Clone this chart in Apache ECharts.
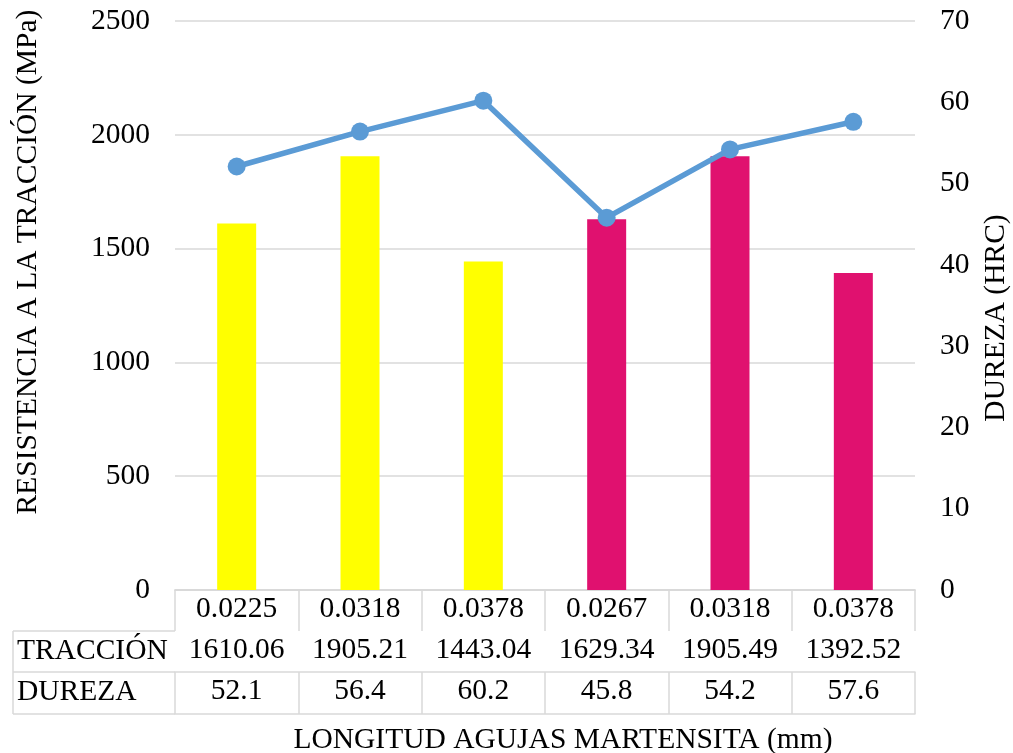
<!DOCTYPE html>
<html>
<head>
<meta charset="utf-8">
<script src="https://cdn.jsdelivr.net/npm/echarts@6/dist/echarts.min.js"></script>
<style>
html,body{margin:0;padding:0;background:#fff;}
#c{width:1013px;height:753px;}
</style>
</head>
<body>
<div id="c"></div>
<script>
const categories = ['0.0225', '0.0318', '0.0378', '0.0267', '0.0318', '0.0378'];
const traccion = [1610.06, 1905.21, 1443.04, 1629.34, 1905.49, 1392.52];
const dureza = [52.1, 56.4, 60.2, 45.8, 54.2, 57.6];
const barColors = ['#FFFF00', '#FFFF00', '#FFFF00', '#E0116F', '#E0116F', '#E0116F'];
const leftTicks = {min: 0, max: 2500, interval: 500};
const rightTicks = {min: 0, max: 70, interval: 10};

const FONT = "'Liberation Serif', 'Times New Roman', serif";
const GRID = '#D9D9D9';
const FS = 29.5;

const chart = echarts.init(document.getElementById('c'), null, {renderer: 'canvas'});

function tableAxis(data, offset, tickLen, showLabel) {
  return {
    type: 'category',
    data: data,
    position: 'bottom',
    offset: offset,
    boundaryGap: true,
    axisLine: {show: true, lineStyle: {color: GRID, width: 1.5}},
    axisTick: {show: tickLen > 0, length: tickLen, interval: 0, lineStyle: {color: GRID, width: 1.5}},
    axisLabel: {show: showLabel, interval: 0, margin: 5, color: '#000', fontFamily: FONT, fontSize: FS, lineHeight: 29},
    splitLine: {show: false}
  };
}

const option = {
  backgroundColor: '#fff',
  animation: false,
  grid: {left: 175, right: 98, top: 21, bottom: 163, containLabel: false},
  xAxis: [
    tableAxis(categories, 0, 41, true),
    tableAxis(traccion.map(v => v.toFixed(2)), 41, 41, true),
    tableAxis(dureza.map(v => v.toFixed(1)), 82, 42, true),
    tableAxis(categories, 124, 0, false)
  ],
  yAxis: [
    {
      type: 'value', position: 'left',
      min: leftTicks.min, max: leftTicks.max, interval: leftTicks.interval,
      axisLine: {show: false}, axisTick: {show: false},
      axisLabel: {margin: 25, color: '#000', fontFamily: FONT, fontSize: FS, formatter: v => String(v)},
      splitLine: {show: true, lineStyle: {color: GRID, width: 1.5}}
    },
    {
      type: 'value', position: 'right',
      min: rightTicks.min, max: rightTicks.max, interval: rightTicks.interval,
      axisLine: {show: false}, axisTick: {show: false},
      axisLabel: {margin: 25, color: '#000', fontFamily: FONT, fontSize: FS, formatter: v => String(v)},
      splitLine: {show: false}
    }
  ],
  series: [
    {
      name: 'TRACCIÓN',
      type: 'bar',
      xAxisIndex: 0, yAxisIndex: 0,
      barWidth: 39,
      data: traccion.map((v, i) => ({value: v, itemStyle: {color: barColors[i]}}))
    },
    {
      name: 'DUREZA',
      type: 'line',
      xAxisIndex: 0, yAxisIndex: 1,
      data: dureza,
      symbol: 'circle',
      symbolSize: 18,
      lineStyle: {color: '#5B9BD5', width: 5.5},
      itemStyle: {color: '#5B9BD5'}
    }
  ],
  graphic: [
    {type: 'line', shape: {x1: 13, y1: 631, x2: 175, y2: 631}, style: {stroke: GRID, lineWidth: 1.5}},
    {type: 'line', shape: {x1: 13, y1: 672, x2: 175, y2: 672}, style: {stroke: GRID, lineWidth: 1.5}},
    {type: 'line', shape: {x1: 13, y1: 714, x2: 175, y2: 714}, style: {stroke: GRID, lineWidth: 1.5}},
    {type: 'line', shape: {x1: 13, y1: 631, x2: 13, y2: 714}, style: {stroke: GRID, lineWidth: 1.5}},
    {type: 'text', left: 17, top: 636, style: {text: 'TRACCIÓN', font: FS + 'px ' + FONT, fill: '#000'}},
    {type: 'text', left: 17, top: 677, style: {text: 'DUREZA', font: FS + 'px ' + FONT, fill: '#000'}},
    {type: 'text', x: 563, y: 740, style: {text: 'LONGITUD AGUJAS MARTENSITA (mm)', font: FS + 'px ' + FONT, fill: '#000', textAlign: 'center', textVerticalAlign: 'middle'}},
    {type: 'text', x: 28, y: 262, rotation: Math.PI / 2, style: {text: 'RESISTENCIA A LA TRACCIÓN (MPa)', font: FS + 'px ' + FONT, fill: '#000', textAlign: 'center', textVerticalAlign: 'middle'}},
    {type: 'text', x: 996, y: 318, rotation: Math.PI / 2, style: {text: 'DUREZA (HRC)', font: FS + 'px ' + FONT, fill: '#000', textAlign: 'center', textVerticalAlign: 'middle'}}
  ]
};
chart.setOption(option);
</script>
</body>
</html>
